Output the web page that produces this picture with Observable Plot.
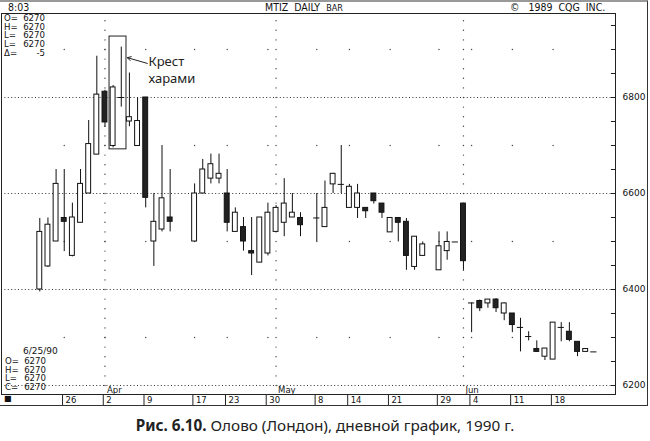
<!DOCTYPE html>
<html><head><meta charset="utf-8">
<script src="https://cdn.jsdelivr.net/npm/d3@7"></script>
<script src="https://cdn.jsdelivr.net/npm/@observablehq/plot@0.6"></script>
<style>
body{margin:0;background:#fff}
#wrap{position:relative;width:650px;height:441px;overflow:hidden;background:#fff;color:#111}
.t{position:absolute;white-space:pre;line-height:1;font-family:"DejaVu Sans",sans-serif;font-size:8.6px;color:#111}
.hd{position:absolute;white-space:pre;line-height:1;font-family:"Liberation Sans Narrow","DejaVu Sans Condensed","Liberation Sans",sans-serif;color:#111}
.row{display:block;height:8.7px;line-height:8.7px;overflow:hidden}
.lb{display:inline-block;width:18px}
.vl{display:inline-block;width:23px;text-align:right}
#cap{position:absolute;left:0;width:650px;top:415px;text-align:center;font-family:"Noto Sans","Open Sans",sans-serif;font-size:15.3px;color:#222}
</style></head><body>
<div id="wrap">
  <div id="chart" style="position:absolute;left:0;top:0"></div>
  <div style="position:absolute;left:0;top:0;width:648px;height:406px;border-right:1px solid #333;border-bottom:1px solid #333;border-top:2px solid #999;box-sizing:border-box;pointer-events:none"></div>
  <div class="hd" style="left:8px;top:2px;font-size:10.5px">8:03</div>
  <div class="hd" style="left:265px;top:2px;font-size:10.5px">MTIZ&nbsp; DAILY&nbsp; <span style="font-size:9px">BAR</span></div>
  <div class="hd" style="left:510px;top:2px;font-size:10.5px">©&nbsp;&nbsp; 1989&nbsp; CQG&nbsp; INC.</div>
  <div class="t" style="left:4px;top:14px" id="infoTop"></div>
  <div class="t" style="left:23px;top:347px;font-size:9px">6/25/90</div>
  <div class="t" style="left:5px;top:357px" id="infoBot"></div>
  <div class="t" style="left:4px;top:395px;font-size:8px">■</div>
  <div id="cap"><b>Рис. 6.10.</b> Олово (Лондон), дневной график, 1990 г.</div>
</div>
<script>
// trading-day slot index (weekdays from Mon 19 Mar 1990 = 0; holidays leave gaps)
const idx   = [2,3,4,5,6,7,8,9,10,11,12,13,14,15,16,17,18,21,22,23,24,25,26,27,28,29,30,31,32,33,34,36,37,38,39,40,41,42,43,44,45,46,47,48,49,51,52,53,54,55,56,57,58,59,60,61,62,63,64,65,66,67,68,69,70];
const open  = [6400,6448,6500,6549,6470,6539,6600,6681,6812,6699,6800,6750,6699,6800,6500,6525,6550,6500,6600,6631,6631,6600,6520,6530,6480,6456,6475,6520,6539,6550,6549,6549,6530,6619,6619,6570,6570,6570,6600,6579,6519,6549,6541,6447,6470,6440,6480,6499,6579,6372,6376,6371,6379,6350,6350,6321,6302,6276,6260,6254,6321,6312,6291,6270,6270];
const high  = [6548,6549,6650,6650,6580,6650,6752,6886,6815,6825,6905,6851,6799,6800,6600,6700,6650,6620,6671,6682,6682,6650,6570,6550,6550,6550,6580,6575,6631,6600,6560,6600,6626,6642,6700,6619,6619,6570,6600,6579,6549,6549,6548,6510,6499,6520,6520,6499,6579,6372,6378,6379,6381,6372,6350,6340,6312,6293,6277,6331,6331,6331,6291,6276,6270];
const low   = [6395,6446,6500,6479,6468,6539,6600,6681,6738,6695,6780,6739,6699,6570,6448,6520,6520,6500,6600,6620,6620,6520,6520,6480,6429,6456,6470,6520,6510,6550,6510,6500,6530,6600,6600,6570,6548,6548,6578,6548,6519,6499,6440,6440,6470,6440,6461,6499,6440,6310,6354,6361,6352,6335,6310,6270,6293,6270,6252,6254,6291,6291,6260,6270,6270];
const close = [6520,6535,6620,6541,6550,6620,6703,6806,6748,6821,6800,6759,6751,6591,6541,6590,6541,6600,6650,6661,6641,6539,6560,6500,6475,6550,6560,6570,6579,6560,6534,6549,6570,6641,6619,6614,6600,6563,6584,6560,6549,6539,6470,6510,6494,6490,6499,6499,6459,6372,6361,6379,6361,6371,6326,6321,6302,6270,6277,6331,6321,6295,6270,6276,6270];

const weekIdx    = [5,10,15,21,25,30,36,40,45,51,55,60,65];
const weekLabels = ["26","2","9","17","23","30","8","14","21","29","4","11","18"];
const monthIdx    = [10,31,54];
const monthLabels = ["Apr","May","Jun"];
const yTicks   = [6200,6400,6600,6800];
const midLevels = [6300,6500,6700,6900];
const minorTicks = d3.range(6200, 6975, 50);
const haramiIdx = [11,12];
const annoText = "Крест\nхарами";

const infoTopLabels = ["O=","H=","L=","L=","Δ="];
const infoTopValues = ["6270","6270","6270","6270","-5"];
const infoBotLabels = ["O=","H=","L=","C="];
const infoBotValues = ["6270","6270","6270","6270"];

function fillInfo(id, labels, values){
  document.getElementById(id).innerHTML = labels.map((l,k)=>
    `<span class="row"><span class="lb">${l}</span><span class="vl">${values[k]}</span></span>`).join("");
}
fillInfo("infoTop", infoTopLabels, infoTopValues);
fillInfo("infoBot", infoBotLabels, infoBotValues);

const data = idx.map((i,k)=>({i, o:open[k], h:high[k], l:low[k], c:close[k]}));
const bodies = data.filter(d=>Math.abs(d.o-d.c) >= 3);
const dojis = data.filter(d=>Math.abs(d.o-d.c) < 3);
const hb = data.filter(d=>haramiIdx.includes(d.i));
const doji = hb[hb.length-1];
const box = [{x1: hb[0].i-0.44, x2: doji.i+0.64, y1: d3.min(hb,d=>d.l)-3, y2: d3.max(hb,d=>d.h)+22}];
const arrow = [{x1: doji.i+3.2, y1: doji.h-34, x2: doji.i+0.75, y2: doji.h-22}];
const anno = [{x: doji.i+3.35, y: doji.h-13, text: annoText}];

const xDomain = [-2.70, 72.66];
const yDomain = [6181.25, 6975];
const grid = d3.cross(weekIdx, midLevels).map(([x,y])=>({x,y}));
const vgrid = d3.cross(monthIdx, d3.range(6200, 6975, 20)).map(([x,y])=>({x,y}));
const ff = "DejaVu Sans, sans-serif";

const chart = Plot.plot({
  width: 650, height: 407,
  marginTop: 13, marginBottom: 13, marginLeft: 1, marginRight: 35,
  x: {type: "linear", domain: xDomain, axis: null},
  y: {domain: yDomain, axis: null},
  style: {fontFamily: ff, background: "transparent", color: "#111"},
  marks: [
    Plot.ruleY(yTicks, {stroke: "#333", strokeDasharray: "1,2.4"}),
    Plot.dot(vgrid, {x: "x", y: "y", r: 0.7, fill: "#444", stroke: null}),
    Plot.dot(grid, {x: "x", y: "y", r: 0.7, fill: "#444", stroke: null}),
    Plot.ruleX(data, {x: "i", y1: "l", y2: "h", stroke: "#111", strokeWidth: 1}),
    Plot.rect(bodies, {x1: d=>d.i-0.3, x2: d=>d.i+0.3, y1: "o", y2: "c",
      fill: d=> d.c < d.o ? "#222" : "#fff", stroke: "#111", strokeWidth: 1}),
    Plot.ruleY(dojis, {y: "o", x1: d=>d.i-0.38, x2: d=>d.i+0.38, stroke: "#111", strokeWidth: 1}),
    Plot.rect(box, {x1: "x1", x2: "x2", y1: "y1", y2: "y2", fill: "none", stroke: "#222", strokeWidth: 1}),
    Plot.arrow(arrow, {x1: "x1", y1: "y1", x2: "x2", y2: "y2", stroke: "#222", strokeWidth: 1, headLength: 6}),
    Plot.text(anno, {x: "x", y: "y", text: "text", textAnchor: "start", lineAnchor: "top", lineHeight: 1.35,
      fontSize: 13, fontFamily: "Noto Sans, Open Sans, sans-serif", fill: "#222"}),
    Plot.text(monthIdx, {x: d=>d, frameAnchor: "bottom", text: (d,k)=>monthLabels[k], textAnchor: "start",
      lineAnchor: "bottom", dx: 2, dy: -2, fontSize: 8.5, fill: "#111"}),
    Plot.ruleY(minorTicks, {y: d=>d, x1: xDomain[1]-0.5, x2: xDomain[1], stroke: "#222"}),
    Plot.axisY(yTicks, {anchor: "right", tickSize: 0, tickPadding: 7, tickFormat: "d", fontSize: 9, fill: "#111"}),
    Plot.axisX(weekIdx, {anchor: "bottom", tickSize: 12, tickFormat: () => "", stroke: "#222", dx: -1.7}),
    Plot.axisX(weekIdx, {anchor: "bottom", tickSize: 0, tickPadding: 2, textAnchor: "start", dx: 1.3,
      tickFormat: d => weekLabels[weekIdx.indexOf(d)], fontSize: 8.5, fill: "#111"}),
    Plot.frame({stroke: "#222"})
  ]
});
document.getElementById("chart").appendChild(chart);
</script>
</body></html>
